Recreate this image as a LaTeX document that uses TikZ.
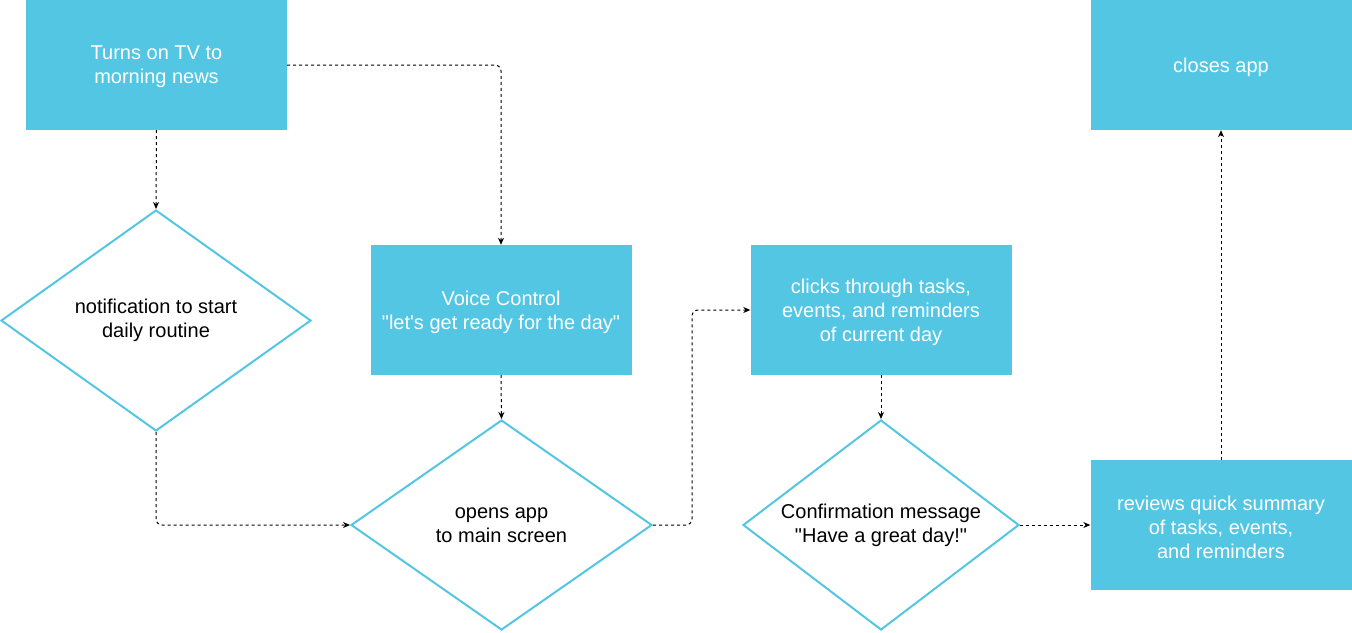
\documentclass[tikz,border=0pt]{standalone}
\usepackage{fontspec}
\newfontfamily\arialfont{Liberation Sans}
\usetikzlibrary{shapes.geometric,arrows.meta}
\definecolor{boxblue}{HTML}{53C6E4}
\tikzset{
  stepbox/.style={rectangle, fill=boxblue, draw=none, minimum width=261pt, minimum height=130pt, inner sep=0pt},
  btext/.style={text=white, align=center, font=\arialfont\fontsize{20}{24}\selectfont, inner sep=0pt, yshift=-2pt},
  decision/.style={diamond, draw=boxblue, line width=2pt, fill=white, inner sep=0pt},
  dtext/.style={text=black, align=center, font=\arialfont\fontsize{20}{24}\selectfont, inner sep=0pt},
  conn/.style={draw=black, line width=1pt, dash pattern=on 3pt off 3pt, rounded corners=6pt,
    -{Stealth[length=7pt,width=6pt]}}
}
\begin{document}
\begin{tikzpicture}[x=1pt,y=-1pt]
\useasboundingbox (0,0) rectangle (1352,632);
\node[stepbox, label={[btext]center:Turns on TV to\\morning news}] (b1) at (156.5,65) {};
\node[decision, minimum width=310pt, minimum height=221pt,
  label={[dtext]center:notification to start\\daily routine}] (d1) at (156,320.5) {};
\node[stepbox, label={[btext]center:Voice Control\\"let's get ready for the day"}] (b2) at (501,310) {};
\node[decision, minimum width=301pt, minimum height=210pt,
  label={[dtext]center:opens app\\to main screen}] (d2) at (501.5,525) {};
\node[stepbox, label={[btext]center:clicks through tasks,\\events, and reminders\\of current day}] (b3) at (881,310) {};
\node[decision, minimum width=276pt, minimum height=210pt,
  label={[dtext]center:Confirmation message\\"Have a great day!"}] (d3) at (881,525) {};
\node[stepbox, label={[btext]center:reviews quick summary\\of tasks, events,\\and reminders}] (b4) at (1221,525) {};
\node[stepbox, label={[btext]center:closes app}] (b5) at (1221,65) {};

\draw[conn] (b1.south) -- (d1.north);
\draw[conn] (b1.east) -| (b2.north);
\draw[conn] (d1.south) |- (d2.west);
\draw[conn] (b2.south) -- (d2.north);
\draw[conn] (d2.east) -- ++(39,0) |- (b3.west);
\draw[conn] (b3.south) -- (d3.north);
\draw[conn] (d3.east) -- (b4.west);
\draw[conn] (b4.north) -- (b5.south);
\end{tikzpicture}
\end{document}
